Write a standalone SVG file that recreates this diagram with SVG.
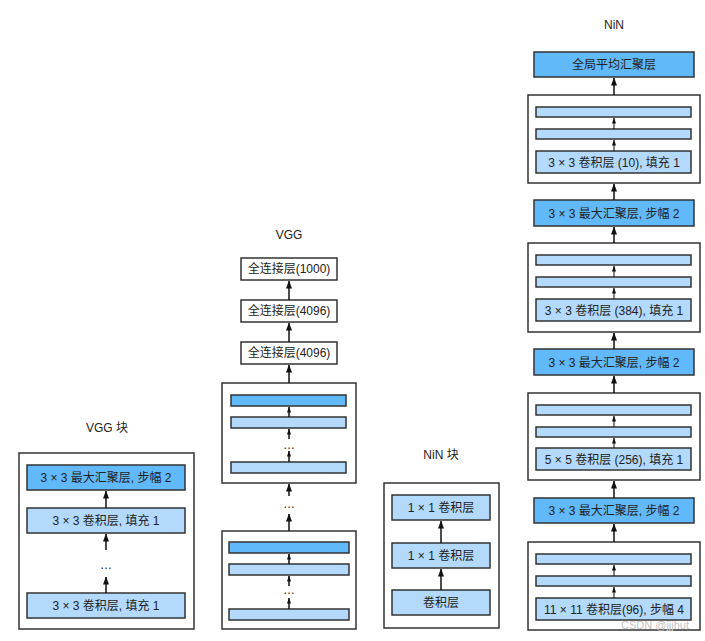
<svg xmlns="http://www.w3.org/2000/svg" width="705" height="641" viewBox="0 0 705 641">
<defs>
<marker id="ah" markerUnits="userSpaceOnUse" markerWidth="8" markerHeight="6" viewBox="0 0 8 6" refX="7.5" refY="3" orient="auto">
<path d="M0,0 L8,3 L0,6 Z" fill="#111"/>
</marker>
<marker id="ahs" markerUnits="userSpaceOnUse" markerWidth="6" markerHeight="4" viewBox="0 0 6 4" refX="5.5" refY="2" orient="auto">
<path d="M0,0 L6,2 L0,4 Z" fill="#111"/>
</marker>
</defs>
<style>
text{font-family:"Liberation Sans","Noto Sans CJK SC",Arial,sans-serif;font-size:12px;fill:#222;text-anchor:middle;dominant-baseline:central}
.outer{fill:#fff;stroke:#333;stroke-width:1.5}
.w{fill:#fff;stroke:#333;stroke-width:1.5}
.lb{fill:#b3d9fd;stroke:#333;stroke-width:1.5}
.db{fill:#62b9f9;stroke:#333;stroke-width:1.5}
.a{stroke:#111;stroke-width:1.5;fill:none}
.as{stroke:#111;stroke-width:1;fill:none}
.wm{fill:#c4c4c4;font-size:11px}
</style>
<rect width="705" height="641" fill="#fff"/>

<!-- VGG block -->
<g id="vgg-block">
<text x="107" y="428">VGG 块</text>
<rect class="outer" x="19" y="453" width="175" height="176"/>
<rect class="db" x="27" y="465" width="158" height="25"/>
<text x="106" y="478">3 × 3 最大汇聚层, 步幅 2</text>
<rect class="lb" x="27" y="508" width="158" height="25"/>
<text x="106" y="521">3 × 3 卷积层, 填充 1</text>
<text x="106" y="565">…</text>
<rect class="lb" x="27" y="593" width="158" height="25"/>
<text x="106" y="606">3 × 3 卷积层, 填充 1</text>
</g>

<!-- VGG -->
<g id="vgg">
<text x="289" y="235">VGG</text>
<rect class="w" x="241" y="258" width="96" height="22"/>
<text x="289" y="269">全连接层(1000)</text>
<rect class="w" x="241" y="300" width="96" height="22"/>
<text x="289" y="311">全连接层(4096)</text>
<rect class="w" x="241" y="342" width="96" height="22"/>
<text x="289" y="353">全连接层(4096)</text>
<rect class="outer" x="222" y="383" width="134" height="100"/>
<rect class="db" x="231" y="395" width="115" height="11"/>
<rect class="lb" x="231" y="417" width="115" height="11"/>
<text x="289" y="445">…</text>
<rect class="lb" x="231" y="462" width="115" height="11"/>
<text x="289" y="504">…</text>
<rect class="outer" x="222" y="531" width="134" height="98"/>
<rect class="db" x="229" y="542" width="120" height="11"/>
<rect class="lb" x="229" y="564" width="120" height="11"/>
<text x="289" y="590">…</text>
<rect class="lb" x="229" y="609" width="120" height="11"/>
</g>

<!-- NiN block -->
<g id="nin-block">
<text x="441" y="455">NiN 块</text>
<rect class="outer" x="384" y="483" width="115" height="145"/>
<rect class="lb" x="392" y="495" width="98" height="25"/>
<text x="441" y="508">1 × 1 卷积层</text>
<rect class="lb" x="392" y="543" width="98" height="25"/>
<text x="441" y="556">1 × 1 卷积层</text>
<rect class="lb" x="392" y="590" width="98" height="25"/>
<text x="441" y="603">卷积层</text>
</g>

<!-- NiN -->
<g id="nin">
<text x="614" y="25">NiN</text>
<rect class="db" x="534" y="52" width="160" height="25"/>
<text x="614" y="65">全局平均汇聚层</text>

<rect class="outer" x="528" y="95" width="172" height="88"/>
<rect class="lb" x="536" y="107" width="155" height="10"/>
<rect class="lb" x="536" y="129" width="155" height="10"/>
<rect class="lb" x="536" y="151" width="155" height="22"/>
<text x="614" y="162.5">3 × 3 卷积层 (10), 填充 1</text>

<rect class="db" x="534" y="200" width="160" height="26"/>
<text x="614" y="213.5">3 × 3 最大汇聚层, 步幅 2</text>

<rect class="outer" x="528" y="243" width="172" height="89"/>
<rect class="lb" x="536" y="255" width="155" height="10"/>
<rect class="lb" x="536" y="277" width="155" height="10"/>
<rect class="lb" x="536" y="299" width="155" height="22"/>
<text x="614" y="310.5">3 × 3 卷积层 (384), 填充 1</text>

<rect class="db" x="534" y="349" width="160" height="26"/>
<text x="614" y="362.5">3 × 3 最大汇聚层, 步幅 2</text>

<rect class="outer" x="528" y="393" width="172" height="87"/>
<rect class="lb" x="536" y="405" width="155" height="10"/>
<rect class="lb" x="536" y="427" width="155" height="10"/>
<rect class="lb" x="536" y="448" width="155" height="22"/>
<text x="614" y="459.5">5 × 5 卷积层 (256), 填充 1</text>

<rect class="db" x="534" y="498" width="160" height="25"/>
<text x="614" y="511">3 × 3 最大汇聚层, 步幅 2</text>

<rect class="outer" x="528" y="542" width="172" height="88"/>
<rect class="lb" x="536" y="554" width="155" height="10"/>
<rect class="lb" x="536" y="576" width="155" height="10"/>
<rect class="lb" x="536" y="598" width="155" height="22"/>
<text x="614" y="609.5">11 × 11 卷积层(96), 步幅 4</text>
</g>

<!-- connectors -->
<g id="connectors">
<line class="a" x1="106" y1="508" x2="106" y2="491" marker-end="url(#ah)"/>
<line class="a" x1="106" y1="550" x2="106" y2="534" marker-end="url(#ah)"/>
<line class="a" x1="106" y1="593" x2="106" y2="577" marker-end="url(#ah)"/>

<line class="a" x1="289" y1="300" x2="289" y2="281" marker-end="url(#ah)"/>
<line class="a" x1="289" y1="342" x2="289" y2="323" marker-end="url(#ah)"/>
<line class="a" x1="289" y1="383" x2="289" y2="365" marker-end="url(#ah)"/>
<line class="a" x1="289" y1="417" x2="289" y2="407" marker-end="url(#ahs)"/>
<line class="a" x1="289" y1="439" x2="289" y2="429" marker-end="url(#ahs)"/>
<line class="a" x1="289" y1="462" x2="289" y2="451" marker-end="url(#ahs)"/>
<line class="a" x1="289" y1="496" x2="289" y2="484" marker-end="url(#ah)"/>
<line class="a" x1="289" y1="531" x2="289" y2="514" marker-end="url(#ah)"/>
<line class="a" x1="289" y1="564" x2="289" y2="554" marker-end="url(#ahs)"/>
<line class="a" x1="289" y1="586" x2="289" y2="576" marker-end="url(#ahs)"/>
<line class="a" x1="289" y1="609" x2="289" y2="598" marker-end="url(#ahs)"/>

<line class="a" x1="441" y1="543" x2="441" y2="521" marker-end="url(#ah)"/>
<line class="a" x1="441" y1="590" x2="441" y2="569" marker-end="url(#ah)"/>

<line class="a" x1="614" y1="95" x2="614" y2="78" marker-end="url(#ah)"/>
<line class="as" x1="614" y1="129" x2="614" y2="118" marker-end="url(#ahs)"/>
<line class="as" x1="614" y1="151" x2="614" y2="140" marker-end="url(#ahs)"/>
<line class="a" x1="614" y1="200" x2="614" y2="184" marker-end="url(#ah)"/>
<line class="a" x1="614" y1="243" x2="614" y2="227" marker-end="url(#ah)"/>
<line class="as" x1="614" y1="277" x2="614" y2="266" marker-end="url(#ahs)"/>
<line class="as" x1="614" y1="299" x2="614" y2="288" marker-end="url(#ahs)"/>
<line class="a" x1="614" y1="349" x2="614" y2="333" marker-end="url(#ah)"/>
<line class="a" x1="614" y1="393" x2="614" y2="376" marker-end="url(#ah)"/>
<line class="as" x1="614" y1="427" x2="614" y2="416" marker-end="url(#ahs)"/>
<line class="as" x1="614" y1="448" x2="614" y2="438" marker-end="url(#ahs)"/>
<line class="a" x1="614" y1="498" x2="614" y2="481" marker-end="url(#ah)"/>
<line class="a" x1="614" y1="542" x2="614" y2="524" marker-end="url(#ah)"/>
<line class="as" x1="614" y1="576" x2="614" y2="565" marker-end="url(#ahs)"/>
<line class="as" x1="614" y1="598" x2="614" y2="587" marker-end="url(#ahs)"/>
</g>

<text class="wm" x="655" y="625">CSDN @jjjhut</text>
</svg>
